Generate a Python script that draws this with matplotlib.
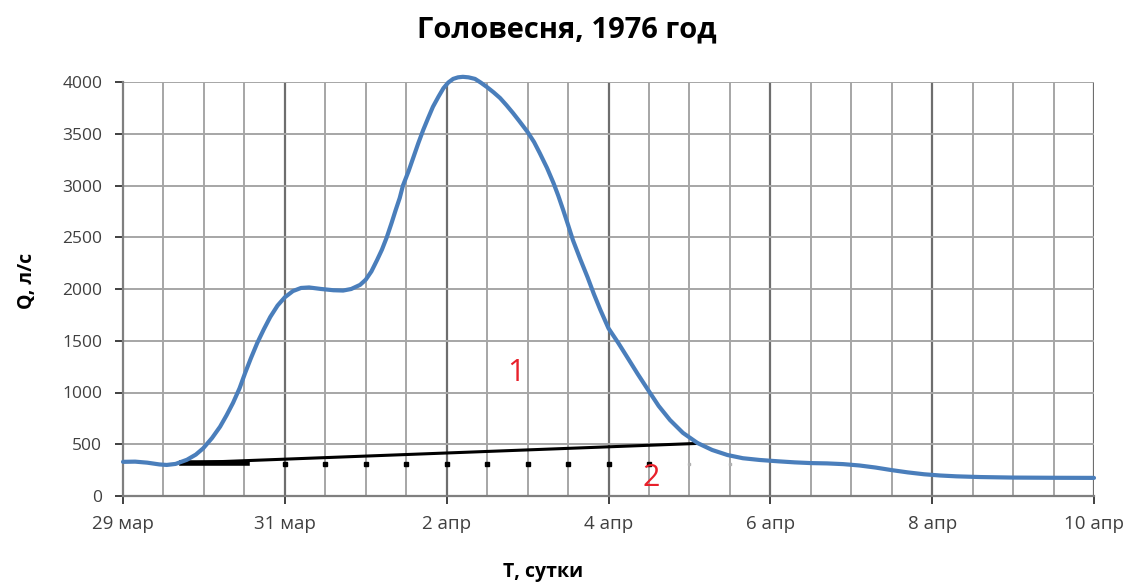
import numpy as np
import matplotlib.pyplot as plt

plt.rcParams['font.family'] = ['Open Sans', 'DejaVu Sans']

days = [0.0, 0.15, 0.3, 0.45, 0.54, 0.65, 0.79, 0.9, 0.99, 1.1, 1.2, 1.28,
        1.36, 1.44, 1.51, 1.58, 1.66, 1.74, 1.82, 1.91, 2.0, 2.1, 2.2, 2.3,
        2.45, 2.6, 2.72, 2.82, 2.93, 3.0, 3.07, 3.14, 3.2, 3.26, 3.32, 3.37,
        3.42, 3.46, 3.53, 3.59, 3.65, 3.71, 3.77, 3.83, 3.9, 3.96, 4.02, 4.08,
        4.14, 4.2, 4.27, 4.35, 4.42, 4.5, 4.58, 4.66, 4.74, 4.82, 4.9, 5.0,
        5.08, 5.15, 5.24, 5.32, 5.38, 5.44, 5.5, 5.56, 5.65, 5.74, 5.82, 5.9,
        6.0, 6.12, 6.23, 6.36, 6.49, 6.62, 6.76, 6.92, 7.1, 7.28, 7.47, 7.66,
        7.87, 8.1, 8.3, 8.5, 8.7, 8.9, 9.1, 9.3, 9.5, 9.7, 9.9, 10.1, 10.3,
        10.6, 11.0, 11.5, 12.0]
flow = [330, 332, 322, 305, 300, 310, 350, 400, 460, 560, 670, 780,
        900, 1040, 1190, 1330, 1480, 1610, 1730, 1840, 1920, 1980, 2010, 2015,
        2000, 1988, 1985, 2000, 2040, 2090, 2170, 2280, 2380, 2500, 2640, 2763,
        2880, 3000, 3140, 3275, 3410, 3536, 3650, 3760, 3860, 3940, 3995, 4030,
        4045, 4050, 4045, 4030, 3995, 3950, 3900, 3845, 3775, 3700, 3620, 3517,
        3420, 3314, 3170, 3024, 2900, 2763, 2620, 2473, 2290, 2116, 1950, 1797,
        1620, 1480, 1343, 1180, 1024, 870, 734, 610, 512, 445, 396, 365,
        348, 335, 325, 318, 315, 308, 295, 275, 250, 228, 210, 198, 190,
        183, 178, 176, 175]

# baseflow separation line (2)
base_days = [0.73, 7.1]
base_flow = [318, 508]
thick_days = [0.73, 1.53]
thick_flow = [318, 318]
mark_days = [2.0, 2.5, 3.0, 3.5, 4.0, 4.5, 5.0, 5.5, 6.0, 6.5]
faint_mark_days = [7.0, 7.5]
mark_level = 310

tick_days = [0, 2, 4, 6, 8, 10, 12]
tick_labels = ['29 мар', '31 мар', '2 апр', '4 апр', '6 апр', '8 апр', '10 апр']

fig = plt.figure(figsize=(11.38, 5.86), dpi=100)
ax = fig.add_axes([123 / 1138, 1 - 496 / 586, (1094 - 123) / 1138, (496 - 82) / 586])

# grid: half-day lines, darker every 2 days
for d in np.arange(0.5, 12.01, 0.5):
    major = abs(d / 2 - round(d / 2)) < 1e-9
    ax.axvline(d, color='#6e6e6e' if major else '#a6a6a6',
               lw=1.6 if major else 1.4, zorder=0)
for q in range(500, 4001, 500):
    ax.axhline(q, color='#a6a6a6', lw=1.4, zorder=0)

ax.plot(days, flow, color='#4a7ebb', lw=3, solid_capstyle='round',
        solid_joinstyle='round', zorder=3, clip_on=False)
ax.plot(base_days, base_flow, color='black', lw=2.2, zorder=2)
ax.plot(thick_days, thick_flow, color='black', lw=4, zorder=2)
ax.plot(mark_days, [mark_level] * len(mark_days), ls='none', marker='s',
        ms=2.5, color='black', zorder=2)
ax.plot(faint_mark_days, [mark_level] * len(faint_mark_days), ls='none',
        marker='s', ms=2, color='#b0b0b0', zorder=2)

ax.text(4.85, 1190, '1', color='#e8202a', fontsize=22, ha='center', va='center')
ax.text(6.53, 175, '2', color='#e8202a', fontsize=22, ha='center', va='center')

ax.set_xlim(0, 12)
ax.set_ylim(0, 4000)
ax.set_xticks(tick_days)
ax.set_xticklabels(tick_labels)
ax.set_yticks(range(0, 4001, 500))
ax.tick_params(axis='both', colors='#404040', length=6, width=1.4)
ax.tick_params(axis='x', labelsize=13.5, pad=8)
ax.tick_params(axis='y', labelsize=12.5, pad=9)
for s in ['top', 'right']:
    ax.spines[s].set_visible(False)
for s in ['left', 'bottom']:
    ax.spines[s].set_color('#7f7f7f')
    ax.spines[s].set_linewidth(1.6)

fig.text(567 / 1138, 1 - 30 / 586, 'Головесня, 1976 год', fontsize=21,
         fontweight='bold', ha='center', va='center')
fig.text(543 / 1138, 1 - 572 / 586, 'Т, сутки', fontsize=14,
         fontweight='bold', ha='center', va='center')
fig.text(27 / 1138, 1 - 281 / 586, 'Q, л/с', fontsize=14, fontweight='bold',
         ha='center', va='center', rotation=90)

fig.savefig('out.png', dpi=100)
